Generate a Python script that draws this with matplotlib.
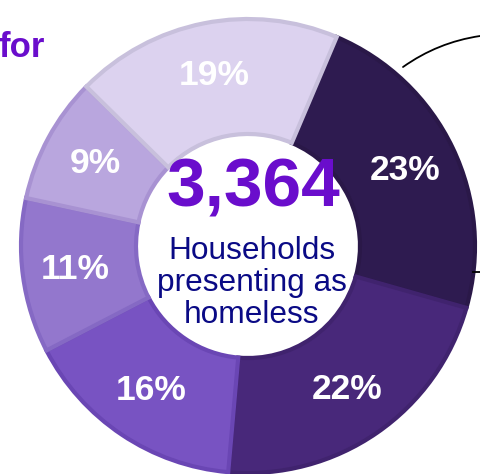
import numpy as np
import matplotlib.pyplot as plt

# share of households by segment, clockwise from the top right
shares = [23, 22, 16, 11, 9, 19]
labels = ["23%", "22%", "16%", "11%", "9%", "19%"]
fill_colors = ["#2e1b50", "#48287a", "#7853c2", "#9377cd", "#b9a6de", "#dcd2ef"]
edge_colors = ["#2a1848", "#40236e", "#6a46b4", "#8569c4", "#a892d2", "#c8c0dc"]

total = "3,364"
caption = "Households\npresenting as\nhomeless"

fig = plt.figure(figsize=(4.8, 4.74), dpi=100)
ax = fig.add_axes([0, 0, 1, 1])

cx, cy = 248, 474 - 246
wedges, texts = ax.pie(
    shares,
    colors=fill_colors,
    startangle=67,
    counterclock=False,
    radius=227,
    center=(cx, cy),
    wedgeprops=dict(width=115, linewidth=3),
    frame=True,
)
for w, ec in zip(wedges, edge_colors):
    w.set_edgecolor(ec)

# percentage labels in the middle of the ring
angles = 67 - (np.cumsum(shares) - np.array(shares) / 2) * 3.6
for a, lab in zip(angles, labels):
    r = 174
    ax.text(cx + r * np.cos(np.radians(a)), cy + r * np.sin(np.radians(a)),
            lab, ha="center", va="center", color="white", fontsize=25.5,
            fontweight="bold", family="Liberation Sans")

ax.set_xlim(0, 480)
ax.set_ylim(0, 474)
ax.set_aspect("equal")
ax.axis("off")

ax.text(253, 474 - 188, total, ha="center", va="center", color="#6a0dcc",
        fontsize=50, fontweight="bold", family="Liberation Sans")
ax.text(252, 474 - 283, caption, ha="center", va="center", color="#0a0a85",
        fontsize=22.8, family="Liberation Sans", linespacing=1.1)

ax.text(45, 474 - 57, "for", ha="right", va="baseline", color="#6a0dcc",
        fontsize=25, fontweight="bold", family="Liberation Sans")

# callout lines running off the right edge
ax.annotate("", xy=(480, 474 - 36), xytext=(403, 474 - 67),
            arrowprops=dict(arrowstyle="-", color="black", lw=1.3,
                            connectionstyle="arc3,rad=-0.12",
                            shrinkA=0, shrinkB=0))
ax.plot([473, 480], [474 - 272, 474 - 272], color="black", lw=1.3)

fig.savefig("out.png", dpi=100)
